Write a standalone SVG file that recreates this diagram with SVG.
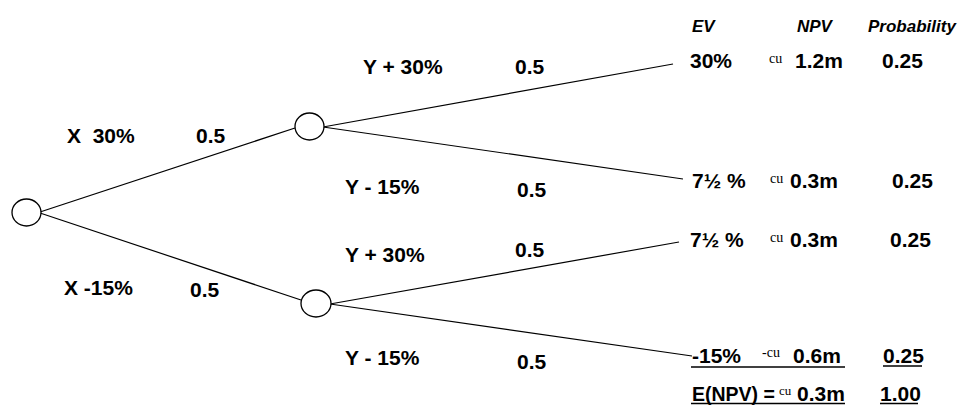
<svg xmlns="http://www.w3.org/2000/svg" width="959" height="405" viewBox="0 0 959 405">
<style>
.n{fill:#fff;stroke:#000;stroke-width:1.3}
.c{stroke:#000;stroke-width:1.2;fill:none}
.t{font-family:"Liberation Sans",Arial,sans-serif;font-weight:bold;font-size:21px;fill:#000}
.h{font-family:"Liberation Sans",Arial,sans-serif;font-weight:bold;font-style:italic;font-size:17px;fill:#000}
.s{font-family:"Liberation Serif","Times New Roman",serif;font-size:14px;fill:#000}
.u{stroke:#000;stroke-width:1.6}
</style>
<rect width="959" height="405" fill="#fff"/>
<g id="connectors">
<line class="c" x1="40" y1="212" x2="295" y2="128"/>
<line class="c" x1="40" y1="213" x2="301" y2="300"/>
<line class="c" x1="323" y1="127" x2="673" y2="64"/>
<line class="c" x1="323" y1="127" x2="683" y2="179"/>
<line class="c" x1="330" y1="304" x2="679" y2="242"/>
<line class="c" x1="330" y1="304" x2="692" y2="356"/>
</g>
<g id="root"><ellipse class="n" cx="26.5" cy="212.5" rx="14.5" ry="13.5"/></g>
<g id="nodeX30"><ellipse class="n" cx="309.5" cy="126.5" rx="14.5" ry="13.5"/></g>
<g id="nodeX15"><ellipse class="n" cx="316" cy="303.5" rx="15" ry="13.5"/></g>
<g id="labels">
<text class="t" x="67" y="143" xml:space="preserve">X  30%</text>
<text class="t" x="196" y="143">0.5</text>
<text class="t" x="64" y="295">X -15%</text>
<text class="t" x="190" y="297">0.5</text>
<text class="t" x="363" y="74">Y + 30%</text>
<text class="t" x="515" y="74">0.5</text>
<text class="t" x="345" y="194">Y - 15%</text>
<text class="t" x="517" y="197">0.5</text>
<text class="t" x="345" y="262">Y + 30%</text>
<text class="t" x="515" y="257">0.5</text>
<text class="t" x="345" y="365">Y - 15%</text>
<text class="t" x="517" y="369">0.5</text>
</g>
<g id="table">
<text class="h" x="692" y="32">EV</text>
<text class="h" x="797" y="32">NPV</text>
<text class="h" x="868" y="32">Probability</text>
<text class="t" x="690" y="68">30%</text>
<text class="s" x="769" y="63">cu</text>
<text class="t" x="795" y="68">1.2m</text>
<text class="t" x="882" y="68">0.25</text>
<text class="t" x="692" y="188">7½ %</text>
<text class="s" x="770" y="183">cu</text>
<text class="t" x="790" y="188">0.3m</text>
<text class="t" x="892" y="188">0.25</text>
<text class="t" x="690" y="247">7½ %</text>
<text class="s" x="770" y="242">cu</text>
<text class="t" x="790" y="247">0.3m</text>
<text class="t" x="890" y="247">0.25</text>
<text class="t" x="692" y="363">-15%</text>
<text class="s" x="762" y="357">-cu</text>
<text class="t" x="793" y="363">0.6m</text>
<text class="t" x="883" y="363">0.25</text>
<line class="u" x1="691" y1="367" x2="845" y2="367"/>
<line class="u" x1="883" y1="366" x2="922" y2="366"/>
<text class="t" x="692" y="401" style="font-size:19.5px">E(NPV) =</text>
<text class="s" x="779" y="395" style="font-size:13px">cu</text>
<text class="t" x="797" y="401">0.3m</text>
<text class="t" x="880" y="401">1.00</text>
<line class="u" x1="691" y1="403.5" x2="845" y2="403.5"/>
<line class="u" x1="880" y1="403.5" x2="918" y2="403.5"/>
</g>
</svg>
